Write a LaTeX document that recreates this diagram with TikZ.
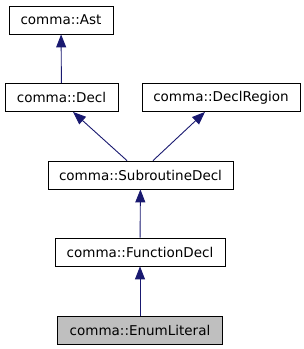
\documentclass[tikz,border=0pt]{standalone}
\usepackage{fontspec}
\setmainfont{DejaVu Sans}
\usetikzlibrary{arrows.meta}
\definecolor{edgeblue}{HTML}{191970}
\definecolor{hl}{HTML}{BFBFBF}
\begin{document}
\begin{tikzpicture}[x=1pt,y=-1pt,
  cls/.style={draw=black, line width=0.8pt, minimum height=28pt, inner sep=0pt,
    font=\fontsize{13.5}{16}\selectfont, fill=white},
  inh/.style={draw=edgeblue, line width=0.9pt, -{Triangle[length=13pt,width=10pt]}}]
\useasboundingbox (0,0) rectangle (304,349);
\node[cls, minimum width=104pt] (ast) at (61,20) {comma::Ast};
\node[cls, minimum width=113pt] (decl) at (61.5,97.5) {comma::Decl};
\node[cls, minimum width=158pt] (region) at (221,97.5) {comma::DeclRegion};
\node[cls, minimum width=185pt] (sub) at (140.5,175) {comma::SubroutineDecl};
\node[cls, minimum width=170pt] (func) at (140,252) {comma::FunctionDecl};
\node[cls, minimum width=165pt, fill=hl] (enum) at (140,330) {comma::EnumLiteral};
\draw[inh] (decl) -- (ast);
\draw[inh] ([xshift=-13.5pt]sub.north) -- ([xshift=11.5pt]decl.south);
\draw[inh] ([xshift=12.5pt]sub.north) -- ([xshift=-16pt]region.south);
\draw[inh] (func) -- (sub);
\draw[inh] (enum) -- (func);
\end{tikzpicture}
\end{document}
